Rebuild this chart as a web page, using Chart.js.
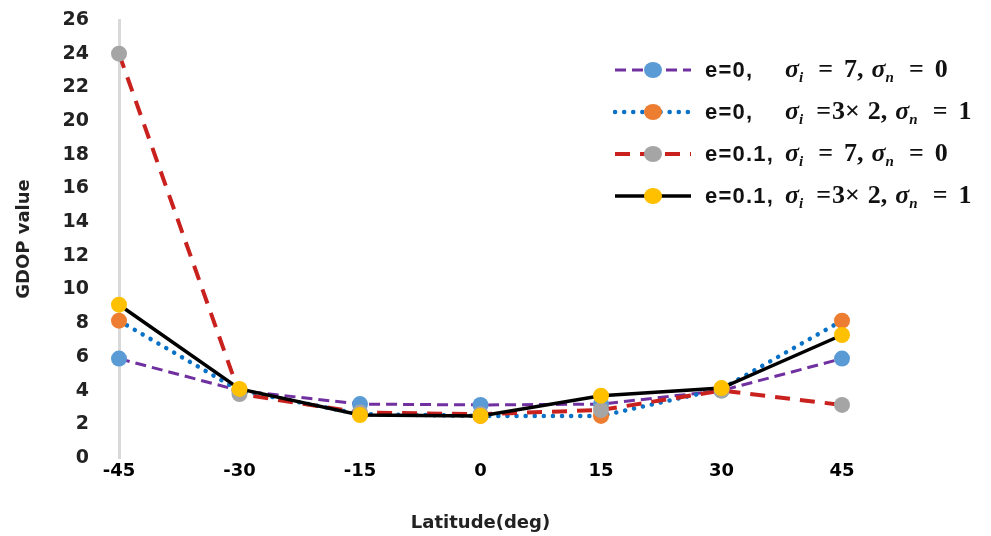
<!DOCTYPE html>
<html>
<head>
<meta charset="utf-8">
<script src="https://cdn.jsdelivr.net/npm/chart.js@4/dist/chart.umd.min.js"></script>
<style>
  html, body { margin: 0; padding: 0; background: #fff; }
  #wrap { position: relative; width: 991px; height: 536px; }
  #legend { position: absolute; left: 613px; top: 49px; font-family: "Liberation Sans", Arial, sans-serif; }
  .row { display: flex; align-items: center; height: 42px; white-space: nowrap; }
  .row svg { width: 80px; height: 20px; margin-right: 12px; }
  .lab { font-weight: bold; font-size: 22px; letter-spacing: 1.2px; color: #111; width: 80px; }
  .math { font-family: "Liberation Serif", "DejaVu Serif", serif; font-weight: bold; font-size: 26px; color: #111; }
  .math i { font-style: italic; }
  .math sub { font-size: 15px; font-style: italic; vertical-align: -5px; }
  .eq { margin: 0 11px 0 15px; }
  .eqt { margin: 0 1px 0 13px; }
  .sp { margin-left: 8px; }
</style>
</head>
<body>
<div id="wrap">
  <canvas id="chart" width="991" height="536"></canvas>
  <div id="legend"></div>
</div>
<script>
// latitude categories
const latitudes = ['-45', '-30', '-15', '0', '15', '30', '45'];

// GDOP values
const gdopE0Sig7 = [5.9, 4.0, 3.2, 3.15, 3.2, 4.0, 5.9];
const gdopE0Sig3x2 = [8.15, 4.0, 2.6, 2.5, 2.5, 4.1, 8.15];
const gdopE01Sig7 = [24.0, 3.8, 2.7, 2.6, 2.85, 4.0, 3.15];
const gdopE01Sig3x2 = [9.1, 4.1, 2.55, 2.5, 3.7, 4.15, 7.3];

const yTicks = [0, 26, 2]; // min, max, step

const sigI = '<i>σ</i><sub>i</sub>';
const sigN = '<i>σ</i><sub>n</sub>';
const eq = '<span class="eq">=</span>';
const legendTexts = [
  ['e=0,', sigI + eq + '7,<span class="sp"></span>' + sigN + eq + '0'],
  ['e=0,', sigI + '<span class="eqt">=</span>3×<span class="sp"></span>2,<span class="sp"></span>' + sigN + eq + '1'],
  ['e=0.1,', sigI + eq + '7,<span class="sp"></span>' + sigN + eq + '0'],
  ['e=0.1,', sigI + '<span class="eqt">=</span>3×<span class="sp"></span>2,<span class="sp"></span>' + sigN + eq + '1']
];

const datasets = [
  {
    data: gdopE01Sig3x2,
    borderColor: '#000000',
    borderWidth: 3.5,
    borderDash: [],
    pointBackgroundColor: '#ffc000',
    order: 1
  },
  {
    data: gdopE01Sig7,
    borderColor: '#c9211e',
    borderWidth: 4,
    borderDash: [15, 10],
    pointBackgroundColor: '#a5a5a5',
    order: 2
  },
  {
    data: gdopE0Sig3x2,
    borderColor: '#0a72c6',
    borderWidth: 4.5,
    borderDash: [0.1, 9],
    borderCapStyle: 'round',
    pointBackgroundColor: '#ed7d31',
    order: 3
  },
  {
    data: gdopE0Sig7,
    borderColor: '#7030a0',
    borderWidth: 3,
    borderDash: [11, 6],
    pointBackgroundColor: '#5b9bd5',
    order: 4
  }
].map(d => ({
  ...d,
  pointRadius: 8,
  pointHoverRadius: 8,
  pointBorderWidth: 0,
  pointBorderColor: d.pointBackgroundColor,
  tension: 0,
  fill: false,
  clip: false
}));

const tickFont = '"DejaVu Sans", "Open Sans", sans-serif';

new Chart(document.getElementById('chart'), {
  type: 'line',
  data: { labels: latitudes, datasets: datasets },
  options: {
    responsive: false,
    animation: false,
    layout: { autoPadding: false, padding: { left: 0, top: 20, right: 149, bottom: 0 } },
    plugins: { legend: { display: false }, tooltip: { enabled: false } },
    scales: {
      x: {
        offset: false,
        grid: { display: false, drawTicks: false },
        border: { display: false },
        ticks: {
          color: '#000',
          padding: 3,
          maxRotation: 0,
          font: { family: tickFont, size: 18, weight: 'bold' }
        },
        title: {
          display: true,
          text: 'Latitude(deg)',
          color: '#222',
          padding: { top: 0, bottom: 2 },
          font: { family: tickFont, size: 18, weight: 'bold' }
        },
        afterFit: s => { s.height = 78; }
      },
      y: {
        min: yTicks[0],
        max: yTicks[1],
        grid: { display: false, drawTicks: true, tickLength: 27, tickColor: 'rgba(0,0,0,0)' },
        border: { display: true, color: '#d9d9d9', width: 3 },
        ticks: {
          stepSize: yTicks[2],
          color: '#222',
          padding: 3,
          font: { family: tickFont, size: 19, weight: 'bold' }
        },
        title: {
          display: true,
          text: 'GDOP value',
          color: '#222',
          padding: { top: 14, bottom: 0 },
          font: { family: tickFont, size: 18, weight: 'bold' }
        },
        afterFit: s => { s.width = 119; }
      }
    }
  }
});

// legend built from the dataset styles (reverse order so it reads top-down)
const legendEl = document.getElementById('legend');
const legendSets = [datasets[3], datasets[2], datasets[1], datasets[0]];
legendSets.forEach((d, i) => {
  const dash = d.borderDash.length ? d.borderDash.join(' ') : 'none';
  const cap = d.borderCapStyle === 'round' ? 'round' : 'butt';
  const row = document.createElement('div');
  row.className = 'row';
  row.innerHTML =
    '<svg viewBox="0 0 80 20">' +
    '<line x1="2" y1="10" x2="78" y2="10" stroke="' + d.borderColor + '" stroke-width="' + d.borderWidth +
    '" stroke-dasharray="' + dash + '" stroke-linecap="' + cap + '"/>' +
    '<ellipse cx="40" cy="10" rx="9" ry="8" fill="' + d.pointBackgroundColor + '"/></svg>' +
    '<span class="lab">' + legendTexts[i][0] + '</span>' +
    '<span class="math">' + legendTexts[i][1] + '</span>';
  legendEl.appendChild(row);
});
</script>
</body>
</html>
